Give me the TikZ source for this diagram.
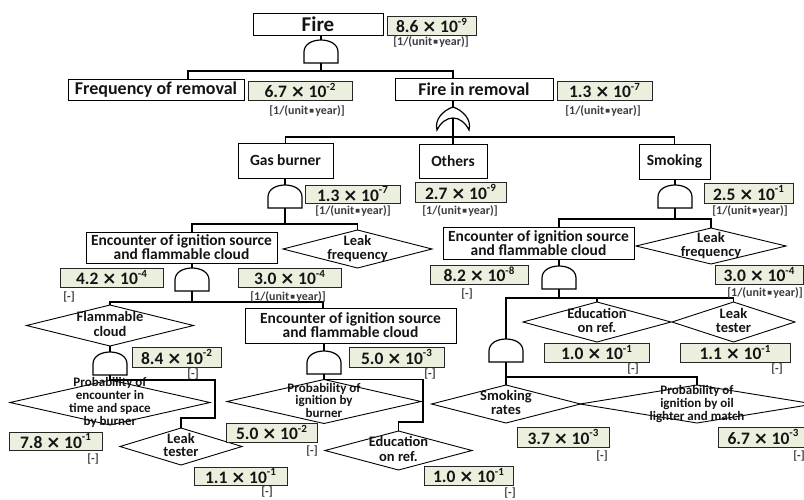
\documentclass[tikz,border=0pt]{standalone}
\usepackage{fontspec}
\setmainfont{Carlito}
\newfontfamily\dejavu{DejaVu Sans}
\usetikzlibrary{shapes.geometric}
\definecolor{valfill}{RGB}{235,240,222}
\definecolor{ink}{RGB}{20,20,20}
\definecolor{unitgray}{RGB}{60,60,60}

\newcommand\fs[2]{\fontsize{#1}{#2}\selectfont}
\newcommand\tms{{\dejavu\bfseries ×}}
\newcommand\valexp[2]{#1\hspace{0.2em}\tms\hspace{0.2em}10\raisebox{0.42em}{\fs{11}{10}#2}}
\newcommand\unitA{[1/(unit\hspace{0.1em}\raisebox{0.18em}{\dejavu\fs{5}{5}■}\hspace{0.1em}year)]}
% text of a basic event: takes no room, so the diamond keeps its own size
\newcommand\dtext[1]{\smash{\makebox[0pt]{\raisebox{-0.28em}{\begin{tabular}{@{}c@{}}#1\end{tabular}}}}}

\tikzset{
  evt/.style={draw=black, line width=1pt, fill=white, text=ink, inner sep=1pt,
    align=center, outer sep=0pt},
  topfont/.style={font=\bfseries\fs{21}{21}},
  l1font/.style={font=\bfseries\fs{18}{18}},
  l2font/.style={font=\bfseries\fs{15.5}{14}},
  valbox/.style={draw=black!85, line width=1pt, fill=valfill, minimum height=19pt,
    inner sep=0pt, font=\bfseries\fs{17.5}{17.5}, text=ink},
  unit/.style={font=\bfseries\fs{12}{12}, text=unitgray, inner sep=0pt},
  dia/.style={diamond, draw=black, line width=0.9pt, inner sep=0pt, outer sep=0pt,
    text=ink, font=\bfseries\fs{14.5}{13.5}},
  diasmall/.style={font=\bfseries\fs{13}{12.3}},
  gateline/.style={draw=black, line width=1.2pt, fill=white},
  conn/.style={draw=black, line width=1.4pt},
  andgate/.pic={
    \draw[gateline] (-17,23) -- (-17,12) .. controls (-17,-4) and (17,-4) .. (17,12) -- (17,23) -- cycle;
    \coordinate (-top) at (0,0);
    \coordinate (-bot) at (0,23);
  },
  orgate/.pic={
    \draw[gateline] (0,0) .. controls (-9,3) and (-19,12) .. (-16,23)
      .. controls (-8,7) and (8,7) .. (16,23)
      .. controls (19,12) and (9,3) .. (0,0) -- cycle;
    \coordinate (-top) at (0,0);
    \coordinate (-in) at (0,11);
  }
}

\begin{document}
\begin{tikzpicture}[x=1pt,y=-1pt]
\useasboundingbox (0,0) rectangle (804,499);

% ---------- events ----------
\node[evt, topfont, minimum width=130pt, minimum height=22pt] (fire) at (318,24) {Fire};
\node[evt, l1font, minimum width=176pt, minimum height=21pt] (freq) at (156,89.5) {Frequency of removal};
\node[evt, l1font, minimum width=158pt, minimum height=22pt] (fir) at (474,89) {Fire in removal};
\node[evt, l2font, minimum width=95pt, minimum height=35pt] (gas) at (285.5,160.5) {Gas burner};
\node[evt, l2font, minimum width=68pt, minimum height=34pt] (oth) at (453,161) {Others};
\node[evt, l2font, minimum width=71pt, minimum height=35pt] (smk) at (674.5,161.5) {Smoking};
\node[evt, l2font, minimum width=191pt, minimum height=31pt] (enc1) at (181.5,247.5) {Encounter of ignition source\\and flammable cloud};
\node[evt, l2font, minimum width=211pt, minimum height=35pt] (enc2) at (350.5,325.5) {Encounter of ignition source\\and flammable cloud};
\node[evt, l2font, minimum width=191pt, minimum height=32pt] (enc3) at (538.5,243) {Encounter of ignition source\\and flammable cloud};

% ---------- basic events (diamonds) ----------
\node[dia, minimum width=149pt, minimum height=38pt] (lf1) at (357.5,249) {\dtext{Leak\\frequency}};
\node[dia, minimum width=150pt, minimum height=36pt] (lf2) at (711,246) {\dtext{Leak\\frequency}};
\node[dia, minimum width=167pt, minimum height=41pt] (fc) at (110,325.5) {\dtext{Flammable\\cloud}};
\node[dia, diasmall, minimum width=200pt, minimum height=45pt] (pe) at (110,402.5) {\dtext{Probability of\\encounter in\\time and space\\by burner}};
\node[dia, minimum width=122pt, minimum height=37pt] (lt1) at (181,446.5) {\dtext{Leak\\tester}};
\node[dia, diasmall, minimum width=194pt, minimum height=44pt] (pib) at (324,401.5) {\dtext{Probability of\\ignition by\\burner}};
\node[dia, minimum width=147pt, minimum height=39pt] (edu1) at (398.5,450.5) {\dtext{Education\\on ref.}};
\node[dia, minimum width=148pt, minimum height=40pt] (edu2) at (597,322) {\dtext{Education\\on ref.}};
\node[dia, minimum width=123pt, minimum height=40pt] (lt2) at (733.5,322) {\dtext{Leak\\tester}};
\node[dia, minimum width=149pt, minimum height=38pt] (sr) at (506,404) {\dtext{Smoking\\rates}};
\node[dia, diasmall, minimum width=234pt, minimum height=38pt] (pol) at (697,404) {\dtext{Probability of\\ignition by oil\\lighter and match}};

% ---------- gates ----------
\pic (g1) at (321,40) {andgate};
\pic (or1) at (453,107) {orgate};
\pic (g2) at (285,185) {andgate};
\pic (g6) at (675,185) {andgate};
\pic (g3) at (192,268) {andgate};
\pic (g7) at (559,266) {andgate};
\pic (g4) at (110,352) {andgate};
\pic (g5) at (324,351) {andgate};
\pic (g8) at (506,339) {andgate};

% ---------- junction points ----------
\coordinate (j1l) at (188,71);
\coordinate (j1r) at (453,71);
\coordinate (j2l) at (285.5,137);
\coordinate (j2r) at (674.5,137);
\coordinate (j3l) at (192,224);
\coordinate (j4r) at (323,302);
\coordinate (j5a) at (215,380);
\coordinate (j5b) at (215,418);
\coordinate (j6a) at (423,379.5);
\coordinate (j6b) at (423,422);
\coordinate (j7l) at (559,219);
\coordinate (j8l) at (506,298);
\coordinate (j9r) at (697,377);

% ---------- connectors ----------
\draw[conn] (g1-top |- fire.south) -- (g1-top);
\draw[conn] (g1-bot) -- (g1-bot |- j1l);
\draw[conn] (j1l |- freq.north) -- (j1l) -- (j1r) -- (j1r |- fir.north);

\draw[conn] (or1-top |- fir.south) -- (or1-top);
\draw[conn] (or1-in) -- (or1-in |- oth.north);
\draw[conn] (j2l |- gas.north) -- (j2l) -- (j2r) -- (j2r |- smk.north);

\draw[conn] (g2-top |- gas.south) -- (g2-top);
\draw[conn] (g2-bot) -- (g2-bot |- j3l);
\draw[conn] (j3l |- enc1.north) -- (j3l) -- (j3l -| lf1.north) -- (lf1.north);

\draw[conn] (g3-top |- enc1.south) -- (g3-top);
\draw[conn] (g3-bot) -- (g3-bot |- j4r);
\draw[conn] (fc.north) -- (fc.north |- j4r) -- (j4r) -- (j4r |- enc2.north);

\draw[conn] (fc.south) -- (g4-top);
\draw[conn] (g4-bot) -- (pe.north) -- (j5a) -- (j5b) -- (j5b -| lt1.north) -- (lt1.north);

\draw[conn] (g5-top |- enc2.south) -- (g5-top);
\draw[conn] (g5-bot) -- (pib.north) -- (j6a) -- (j6b) -- (j6b -| edu1.north) -- (edu1.north);

\draw[conn] (g6-top |- smk.south) -- (g6-top);
\draw[conn] (g6-bot) -- (g6-bot |- j7l);
\draw[conn] (j7l |- enc3.north) -- (j7l) -- (j7l -| lf2.north) -- (lf2.north);

\draw[conn] (g7-top |- enc3.south) -- (g7-top);
\draw[conn] (g7-bot) -- (g7-bot |- j8l);
\draw[conn] (g8-top) -- (j8l) -- (j8l -| lt2.north) -- (lt2.north);
\draw[conn] (edu2.north) -- (edu2.north |- j8l);

\draw[conn] (g8-bot) -- (g8-bot |- j9r) -- (j9r) -- (pol.north);
\draw[conn] (sr.north) -- (sr.north |- j9r);

% ---------- values ----------
\node[valbox, minimum width=89pt] (vfire) at (431.5,25.5) {\valexp{8.6}{-9}};
\node[unit] (ufire) at (431,42) {\unitA};
\node[valbox, minimum width=104pt] (vfreq) at (300,90.5) {\valexp{6.7}{-2}};
\node[unit] (ufreq) at (307,111) {\unitA};
\node[valbox, minimum width=95pt] (vfir) at (604.5,90.5) {\valexp{1.3}{-7}};
\node[unit] (ufir) at (603,111) {\unitA};
\node[valbox, minimum width=95pt, minimum height=18pt] (vgas) at (352.5,194) {\valexp{1.3}{-7}};
\node[unit] (ugas) at (353,211) {\unitA};
\node[valbox, minimum width=91pt, minimum height=20pt] (voth) at (460.5,192) {\valexp{2.7}{-9}};
\node[unit] (uoth) at (460,211) {\unitA};
\node[valbox, minimum width=89pt, minimum height=20pt] (vsmk) at (748.5,193) {\valexp{2.5}{-1}};
\node[unit] (usmk) at (750,211) {\unitA};
\node[valbox, minimum width=103pt] (venc1) at (111.5,277.5) {\valexp{4.2}{-4}};
\node[unit] (uenc1) at (69,297) {[-]};
\node[valbox, minimum width=103pt] (vlf1) at (289.5,277.5) {\valexp{3.0}{-4}};
\node[unit] (ulf1) at (288,297) {\unitA};
\node[valbox, minimum width=98pt] (venc3) at (479,274.5) {\valexp{8.2}{-8}};
\node[unit] (uenc3) at (467,294) {[-]};
\node[valbox, minimum width=88pt] (vlf2) at (759,274.5) {\valexp{3.0}{-4}};
\node[unit] (ulf2) at (765,293) {\unitA};
\node[valbox, minimum width=89pt, minimum height=20pt] (vfc) at (176.5,357) {\valexp{8.4}{-2}};
\node[unit] (ufc) at (193,374) {[-]};
\node[valbox, minimum width=95pt, minimum height=20pt] (venc2) at (396.5,357) {\valexp{5.0}{-3}};
\node[unit] (uenc2) at (430,374) {[-]};
\node[valbox, minimum width=105pt] (vedu2) at (596.5,352.5) {\valexp{1.0}{-1}};
\node[unit] (uedu2) at (633,369) {[-]};
\node[valbox, minimum width=110pt] (vlt2) at (735,352.5) {\valexp{1.1}{-1}};
\node[unit] (ult2) at (777,369) {[-]};
\node[valbox, minimum width=93pt, minimum height=18pt] (vpe) at (55.5,441) {\valexp{7.8}{-1}};
\node[unit] (upe) at (93,459) {[-]};
\node[valbox, minimum width=93pt, minimum height=18pt] (vlt1) at (240.5,476) {\valexp{1.1}{-1}};
\node[unit] (ult1) at (267,492) {[-]};
\node[valbox, minimum width=91pt] (vpib) at (271.5,432.5) {\valexp{5.0}{-2}};
\node[unit] (upib) at (312,451) {[-]};
\node[valbox, minimum width=89pt] (vedu1) at (468.5,475.5) {\valexp{1.0}{-1}};
\node[unit] (uedu1) at (510,492.5) {[-]};
\node[valbox, minimum width=92pt, minimum height=20pt] (vsr) at (563,437) {\valexp{3.7}{-3}};
\node[unit] (usr) at (602,456) {[-]};
\node[valbox, minimum width=90pt, minimum height=20pt] (vpol) at (763,437) {\valexp{6.7}{-3}};
\node[unit] (upol) at (799,456) {[-]};

\end{tikzpicture}
\end{document}
